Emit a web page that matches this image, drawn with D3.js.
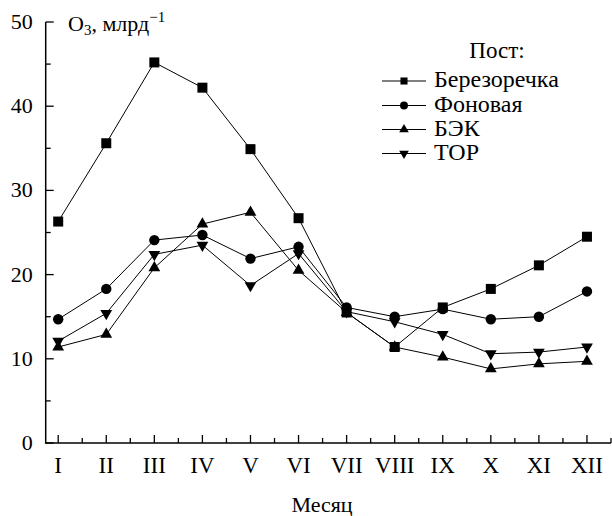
<!DOCTYPE html>
<html>
<head>
<meta charset="utf-8">
<script src="https://cdn.jsdelivr.net/npm/d3@7"></script>
<style>
  body { margin: 0; background: #fff; }
</style>
</head>
<body>
<div id="chart"></div>
<script>
// Chart size
var width = 612, height = 516;
var fontFamily = "'Liberation Serif'";

// Data (ozone, ppb by month)
var months = ["I", "II", "III", "IV", "V", "VI", "VII", "VIII", "IX", "X", "XI", "XII"];
var yTicks = [0, 10, 20, 30, 40, 50];
var seriesNames = ["Березоречка", "Фоновая", "БЭК", "ТОР"];
var berezorechka = [26.3, 35.6, 45.2, 42.2, 34.9, 26.7, 15.5, 11.4, 16.1, 18.3, 21.1, 24.5];
var fonovaya     = [14.7, 18.3, 24.1, 24.7, 21.9, 23.3, 16.1, 15.0, 15.9, 14.7, 15.0, 18.0];
var bek          = [11.4, 12.9, 20.8, 26.0, 27.4, 20.5, 15.5, 11.4, 10.2, 8.8, 9.4, 9.7];
var tor          = [12.1, 15.4, 22.4, 23.5, 18.7, 22.5, 15.6, 14.4, 12.9, 10.6, 10.8, 11.4];

var series = [
  { name: seriesNames[0], values: berezorechka, symbol: d3.symbolSquare, size: 100, legSize: 50, rot: 0 },
  { name: seriesNames[1], values: fonovaya, symbol: d3.symbolCircle, size: 85, legSize: 50, rot: 0 },
  { name: seriesNames[2], values: bek, symbol: d3.symbolTriangle, size: 60, legSize: 40, rot: 0 },
  { name: seriesNames[3], values: tor, symbol: d3.symbolTriangle, size: 60, legSize: 40, rot: 180 }
];

var svg = d3.select("#chart").append("svg")
    .attr("width", width)
    .attr("height", height)
    .attr("font-family", fontFamily);

// helper: text with attributes for font
function addText(sel, size) {
  return sel.append("text")
    .attr("font-family", fontFamily)
    .attr("font-size", size)
    .attr("fill", "#000");
}

// Scales
var x = d3.scaleLinear().domain([-0.26, 11.5]).range([45.7, 611]);
var y = d3.scaleLinear().domain([0, 50]).range([443, 22]);

var axisColor = "#000";

// Y axis: ticks inward (to the right)
var yAxis = svg.append("g").attr("transform", "translate(" + x(-0.26) + ",0)");
yAxis.append("line")
    .attr("y1", y(0) + 0.75).attr("y2", y(50))
    .attr("stroke", axisColor).attr("stroke-width", 1.5);
yAxis.selectAll(".major").data(yTicks).enter().append("line")
    .attr("x1", 0).attr("x2", 8)
    .attr("y1", d => y(d)).attr("y2", d => y(d))
    .attr("stroke", axisColor).attr("stroke-width", 1.3);
yAxis.selectAll(".minor").data(d3.range(5, 50, 10)).enter().append("line")
    .attr("x1", 0).attr("x2", 5)
    .attr("y1", d => y(d)).attr("y2", d => y(d))
    .attr("stroke", axisColor).attr("stroke-width", 1.3);
yTicks.forEach(function(d) {
  addText(yAxis, 22)
    .attr("x", -13).attr("y", y(d) + 7)
    .attr("text-anchor", "end")
    .text(d);
});

// X axis: ticks inward (upward)
var xAxis = svg.append("g").attr("transform", "translate(0," + y(0) + ")");
xAxis.append("line")
    .attr("x1", x(-0.26)).attr("x2", x(11.5))
    .attr("stroke", axisColor).attr("stroke-width", 1.5);
xAxis.selectAll(".major").data(months).enter().append("line")
    .attr("x1", (d, i) => x(i)).attr("x2", (d, i) => x(i))
    .attr("y1", 0).attr("y2", -8)
    .attr("stroke", axisColor).attr("stroke-width", 1.3);
xAxis.selectAll(".minor").data(d3.range(0.5, 12, 1)).enter().append("line")
    .attr("x1", d => x(d)).attr("x2", d => x(d))
    .attr("y1", 0).attr("y2", -5)
    .attr("stroke", axisColor).attr("stroke-width", 1.3);
months.forEach(function(m, i) {
  addText(xAxis, 23)
    .attr("x", x(i)).attr("y", 30)
    .attr("text-anchor", "middle")
    .text(m);
});

// Axis titles
addText(svg, 22)
    .attr("x", 322).attr("y", 512)
    .attr("text-anchor", "middle")
    .text("Месяц");

var yTitle = addText(svg, 22)
    .attr("x", 68).attr("y", 31);
yTitle.append("tspan").text("O");
yTitle.append("tspan").attr("dy", 4).attr("font-size", 15).text("3");
yTitle.append("tspan").attr("dy", -4).text(",  млрд");
yTitle.append("tspan").attr("dy", -9).attr("font-size", 15).text("−1");

// Lines and markers
var line = d3.line()
    .x((d, i) => x(i))
    .y(d => y(d));

series.forEach(function(s) {
  svg.append("path")
     .datum(s.values)
     .attr("d", line)
     .attr("fill", "none")
     .attr("stroke", "#000")
     .attr("stroke-width", 1);
});

series.forEach(function(s) {
  svg.selectAll(null)
     .data(s.values)
     .enter()
     .append("path")
     .attr("d", d3.symbol().type(s.symbol).size(s.size))
     .attr("transform", (d, i) => "translate(" + x(i) + "," + y(d) + ") rotate(" + s.rot + ")")
     .attr("fill", "#000");
});

// Legend
var legend = svg.append("g");
addText(legend, 23)
    .attr("x", 497).attr("y", 58)
    .attr("text-anchor", "middle")
    .text("Пост:");

var rowY = [81, 105.5, 129.5, 153.5];
series.forEach(function(s, i) {
  var g = legend.append("g").attr("transform", "translate(0," + rowY[i] + ")");
  g.append("line")
   .attr("x1", 382).attr("x2", 426)
   .attr("stroke", "#000").attr("stroke-width", 1);
  g.append("path")
   .attr("d", d3.symbol().type(s.symbol).size(s.legSize))
   .attr("transform", "translate(404,0) rotate(" + s.rot + ")")
   .attr("fill", "#000");
  addText(g, 24)
   .attr("x", 434).attr("y", 6)
   .text(s.name);
});
</script>
</body>
</html>
